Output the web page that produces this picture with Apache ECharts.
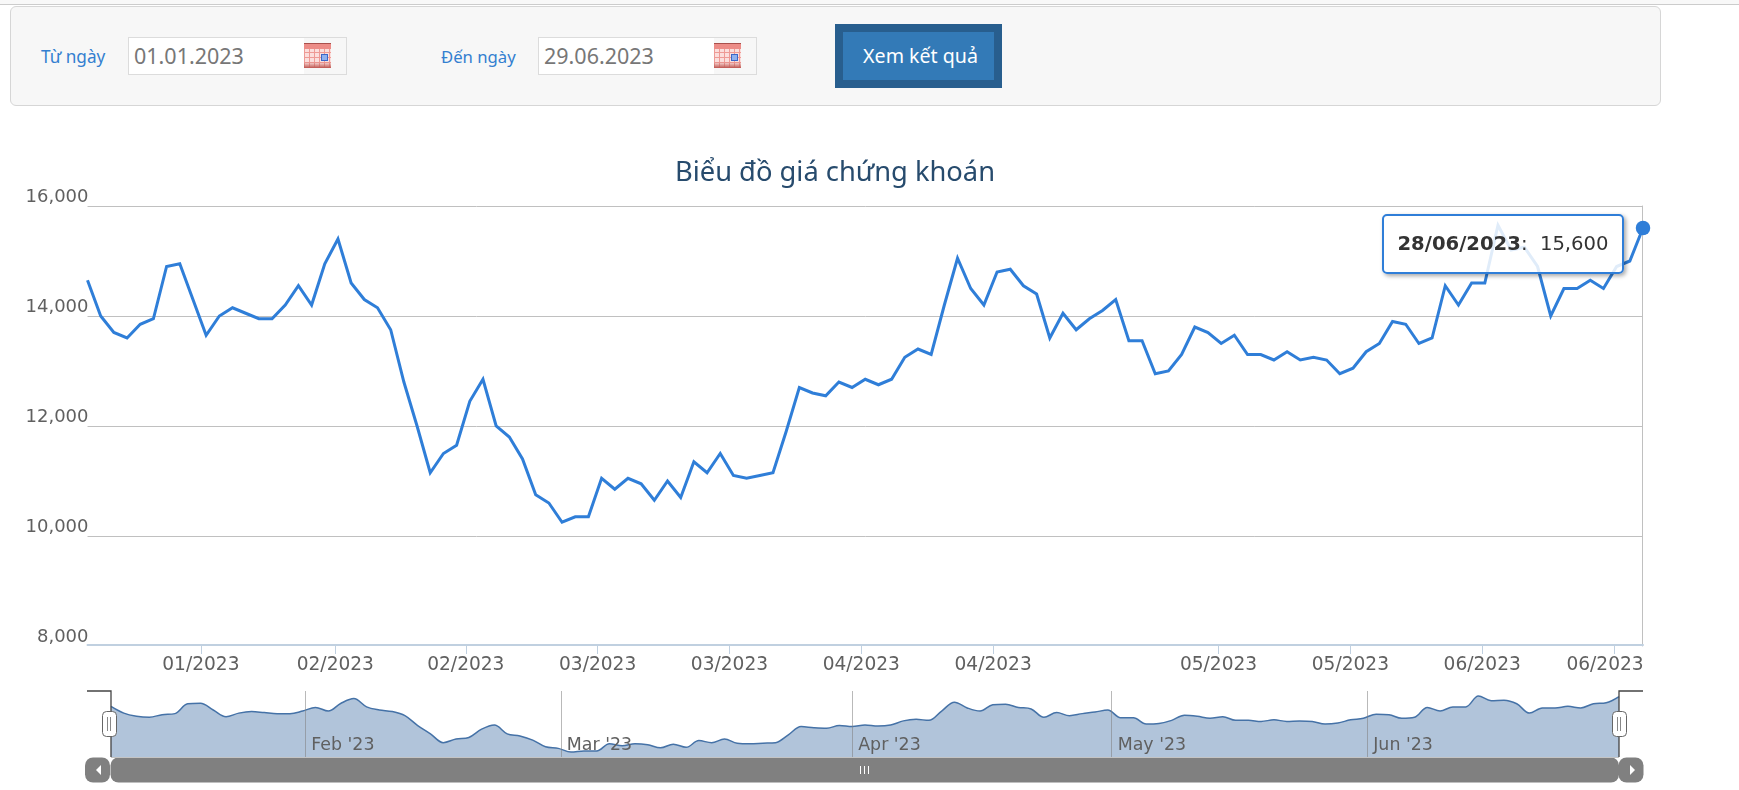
<!DOCTYPE html>
<html><head><meta charset="utf-8">
<script src="https://cdn.jsdelivr.net/npm/echarts@6/dist/echarts.min.js"></script>
<style>
html,body{margin:0;padding:0;background:#fff;width:1739px;height:790px;overflow:hidden;font-family:"Noto Sans",sans-serif}
#strip{position:absolute;left:0;top:0;width:1739px;height:4px;background:#f8f8f8;border-bottom:1px solid #ccc}
#panel{position:absolute;left:10px;top:6px;width:1649px;height:98px;background:#f7f7f7;border:1px solid #d6d6d6;border-radius:6px}
.lb{position:absolute;top:45px;color:#337fd0;font-size:17.2px;line-height:24px;white-space:nowrap}
.ip{position:absolute;top:37px;width:217px;height:36px;border:1px solid #dcdcdc;background:#f7f7f7}
.ip .w{position:absolute;left:0;top:0;width:175px;height:36px;background:#fff}
.ip .t{position:absolute;left:5px;top:3px;font-size:21.5px;line-height:30px;color:#777}
.ic{position:absolute;left:175px;top:5px;width:27px;height:25px;background:
 linear-gradient(#a9504c,#a9504c) 0 0/100% 1px no-repeat,
 linear-gradient(#ec8c87,#ec8c87) 0 1px/100% 5px no-repeat,
 linear-gradient(rgba(200,80,75,0),#c05a55) 0 19px/100% 6px no-repeat,
 repeating-linear-gradient(90deg,#ee9a95 0 1px,transparent 1px 5px),
 repeating-linear-gradient(0deg,#ee9a95 0 1px,transparent 1px 5px),
 #fbdedc}
.ic:after{content:"";position:absolute;left:17px;top:11px;width:5px;height:5px;background:#8fb0ee;border:1px solid #3c66c8}
#btn{position:absolute;left:835px;top:24px;width:147px;padding-left:4px;height:48px;border:8px solid #285e8e;background:#337ab7;color:#fff;font-size:19.6px;line-height:48px;text-align:center;white-space:nowrap}
#c{position:absolute;left:0;top:0;width:1739px;height:790px}
</style></head>
<body>
<div id="strip"></div>
<div id="panel"></div>
<div class="lb" style="left:41px">Từ ngày</div>
<div class="ip" style="left:128px"><div class="w"></div><div class="t">01.01.2023</div><div class="ic"></div></div>
<div class="lb" style="left:441px;font-size:16.7px">Đến ngày</div>
<div class="ip" style="left:538px"><div class="w"></div><div class="t">29.06.2023</div><div class="ic"></div></div>
<div id="btn">Xem kết quả</div>
<div id="c"></div>
<script>
const titleText = 'Biểu đồ giá chứng khoán';
const prices = [14650,14000,13700,13600,13850,13950,14900,14950,14300,13650,
 14000,14150,14050,13950,13950,14200,14550,14200,14950,15400,
 14600,14300,14150,13750,12800,12000,11150,11500,11650,12450,
 12850,12000,11800,11400,10750,10600,10250,10350,10350,11050,
 10850,11050,10950,10650,11000,10700,11350,11150,11500,11100,
 11050,11100,11150,11900,12700,12600,12550,12800,12700,12850,
 12750,12850,13250,13400,13300,14200,15050,14500,14200,14800,
 14850,14550,14400,13600,14050,13750,13950,14100,14300,13550,
 13550,12950,13000,13300,13800,13700,13500,13650,13300,13300,
 13200,13350,13200,13250,13200,12950,13050,13350,13500,13900,
 13850,13500,13600,14550,14200,14600,14600,15650,15200,15250,
 14900,14000,14500,14500,14650,14500,14900,15000,15600];
const lastDate = '28/06/2023';
const tickPositions = [8.6,18.8,28.7,38.7,48.7,58.7,68.7,85.8,95.8,105.8,115.8];
const tickLabels = ['01/2023','02/2023','02/2023','03/2023','03/2023','04/2023','04/2023','05/2023','05/2023','06/2023','06/2023'];
const navPositions = [15.2,35.2,58,78.3,98.3];
const navLabels = ["Feb '23","Mar '23","Apr '23","May '23","Jun '23"];
const yTicks = {min:8000,max:16000,interval:2000};

const seriesData = prices.map((v,i)=>[i,v]);
const lastIdx = prices.length-1;
const FONT = '"DejaVu Sans",sans-serif';
const chart = echarts.init(document.getElementById('c'));
const sbY=757.5, sbH=25;
const grey='#808080';
const xLabelStyle = {color:'#606060',fontSize:18.6,fontFamily:FONT};
chart.setOption({
  animation:false,
  backgroundColor:'transparent',
  title:{text:titleText,left:830,top:155,textAlign:'center',textStyle:{color:'#274b6d',fontSize:27.3,fontWeight:'normal',fontFamily:'"Noto Sans",sans-serif'}},
  tooltip:{trigger:'item',alwaysShowContent:true,transitionDuration:0,showDelay:0,hideDelay:0,
    position:()=>[1382,214],
    backgroundColor:'rgba(255,255,255,0.85)',borderColor:'#2f7ed8',borderWidth:2,borderRadius:5,padding:[0,0,0,0],
    extraCssText:'box-shadow:2px 2px 4px rgba(0,0,0,.35);width:238px;height:56px;line-height:56px;text-align:center;white-space:nowrap;box-sizing:content-box;',
    textStyle:{color:'#333',fontSize:19.6,fontFamily:FONT},
    formatter:p=>'<b>'+lastDate+'</b>:&nbsp; '+p.value[1].toLocaleString('en-US')},
  grid:[
    {left:87.5,right:96,top:206,height:440},
    {left:111,right:120,top:691,height:66}
  ],
  xAxis:[
    {gridIndex:0,type:'value',min:0,max:lastIdx,offset:-1,
     axisLine:{show:true,lineStyle:{color:'#C0D0E0',width:2}},
     axisTick:{show:true,length:9,customValues:tickPositions,lineStyle:{color:'#C0D0E0',width:1}},
     splitLine:{show:false},
     axisLabel:Object.assign({show:true,customValues:tickPositions,margin:11,
       rich:{last:Object.assign({padding:[0,18,0,0]},xLabelStyle)},
       formatter:v=>{const i=tickPositions.indexOf(v);const s=tickLabels[i]??'';return i===tickPositions.length-1?'{last|'+s+'}':s;}},xLabelStyle)},
    {gridIndex:1,type:'value',min:0,max:lastIdx,z:5,
     axisLine:{show:false},
     axisTick:{show:false,customValues:navPositions},
     splitLine:{show:true,lineStyle:{color:'rgba(128,128,128,0.55)',width:1}},
     axisLabel:{show:true,inside:true,customValues:navPositions,margin:3,align:'left',color:'#606060',fontSize:17.4,fontFamily:FONT,
       padding:[0,0,0,6],formatter:v=>navLabels[navPositions.indexOf(v)]??''}}
  ],
  yAxis:[
    {gridIndex:0,type:'value',min:yTicks.min,max:yTicks.max,interval:yTicks.interval,
     axisLine:{show:false},axisTick:{show:false},
     splitLine:{show:true,showMinLine:false,lineStyle:{color:'#C0C0C0',width:1}},
     axisLabel:{margin:-1,color:'#606060',fontSize:18,fontFamily:FONT,verticalAlign:'bottom',lineHeight:17,
       formatter:v=>v.toLocaleString('en-US')}},
    {gridIndex:0,type:'value',position:'right',offset:-1,min:yTicks.min,max:yTicks.max,interval:yTicks.interval,
     axisLine:{show:true,lineStyle:{color:'#C0C0C0',width:1}},axisTick:{show:false},axisLabel:{show:false},splitLine:{show:false}},
    {gridIndex:1,type:'value',min:9768,max:16132,show:false,splitLine:{show:false}}
  ],
  series:[
    {type:'line',xAxisIndex:0,yAxisIndex:0,data:seriesData,clip:false,z:3,
     showAllSymbol:true,symbol:(v,p)=>p.dataIndex===lastIdx?'circle':'none',symbolSize:14.5,
     itemStyle:{color:'#2f7ed8',borderWidth:0},
     lineStyle:{color:'#2f7ed8',width:3,join:'miter',miterLimit:10},
     emphasis:{disabled:true}},
    {type:'line',xAxisIndex:1,yAxisIndex:2,data:seriesData,smooth:0.35,symbol:'none',silent:true,tooltip:{show:false},z:2,
     lineStyle:{color:'#4572a7',width:1.5},
     areaStyle:{color:'rgba(69,114,167,0.42)',origin:'start',opacity:1},
     emphasis:{disabled:true}}
  ],
  graphic:[
    {type:'polyline',z:20,shape:{points:[[87,691],[111,691],[111,757]]},style:{stroke:'#444',lineWidth:1.3,fill:null}},
    {type:'polyline',z:20,shape:{points:[[1619,757],[1619,691],[1643,691]]},style:{stroke:'#444',lineWidth:1.3,fill:null}},
    {type:'rect',z:21,shape:{x:102.5,y:711.5,width:14,height:25,r:4},style:{fill:'#fff',stroke:'#666',lineWidth:1}},
    {type:'line',z:22,shape:{x1:107.5,y1:717,x2:107.5,y2:731},style:{stroke:'#888',lineWidth:1}},
    {type:'line',z:22,shape:{x1:110.5,y1:717,x2:110.5,y2:731},style:{stroke:'#888',lineWidth:1}},
    {type:'rect',z:21,shape:{x:1612.5,y:711.5,width:14,height:25,r:4},style:{fill:'#fff',stroke:'#666',lineWidth:1}},
    {type:'line',z:22,shape:{x1:1617.5,y1:717,x2:1617.5,y2:731},style:{stroke:'#888',lineWidth:1}},
    {type:'line',z:22,shape:{x1:1620.5,y1:717,x2:1620.5,y2:731},style:{stroke:'#888',lineWidth:1}},
    {type:'rect',z:10,shape:{x:110.5,y:sbY,width:1508.5,height:sbH,r:8},style:{fill:grey}},
    {type:'rect',z:10,shape:{x:85,y:sbY,width:25,height:sbH,r:8},style:{fill:grey}},
    {type:'rect',z:10,shape:{x:1618.5,y:sbY,width:25,height:sbH,r:8},style:{fill:grey}},
    {type:'line',z:11,shape:{x1:111,y1:757.5,x2:1619,y2:757.5},style:{stroke:'#c4c4c4',lineWidth:1}},
    {type:'polygon',z:11,shape:{points:[[101,765],[101,775],[96,770]]},style:{fill:'#fff'}},
    {type:'polygon',z:11,shape:{points:[[1630,765],[1630,775],[1635,770]]},style:{fill:'#fff'}},
    {type:'line',z:11,shape:{x1:860.5,y1:766,x2:860.5,y2:774},style:{stroke:'#fff',lineWidth:1}},
    {type:'line',z:11,shape:{x1:864.5,y1:766,x2:864.5,y2:774},style:{stroke:'#fff',lineWidth:1}},
    {type:'line',z:11,shape:{x1:868.5,y1:766,x2:868.5,y2:774},style:{stroke:'#fff',lineWidth:1}}
  ]
});
chart.dispatchAction({type:'showTip',seriesIndex:0,dataIndex:lastIdx});
</script>
</body></html>
